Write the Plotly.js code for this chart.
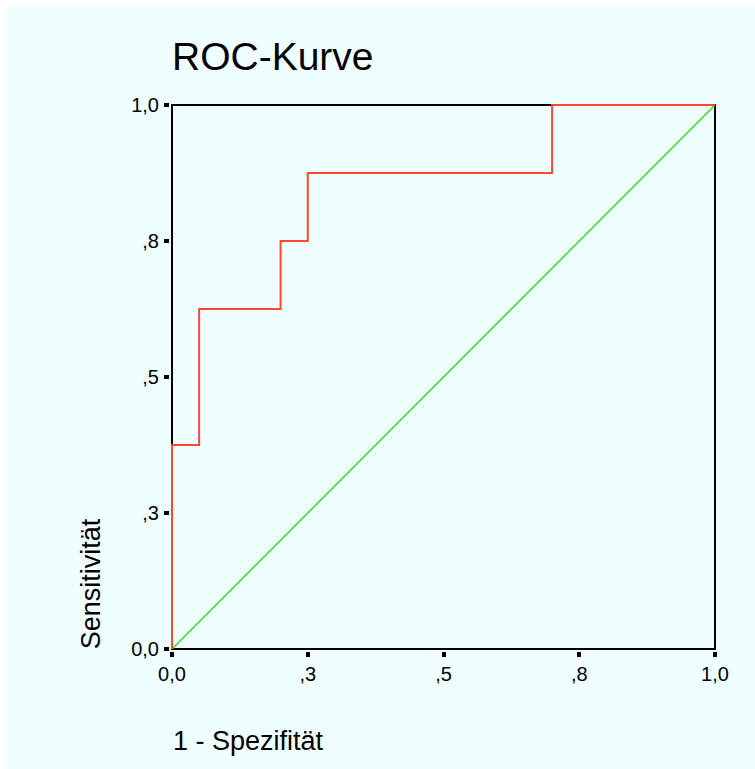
<!DOCTYPE html>
<html>
<head>
<meta charset="utf-8">
<script src="https://cdn.plot.ly/plotly-3.0.1.min.js"></script>
<style>
  html, body { margin: 0; padding: 0; background: #ffffff; }
  #chart { position: absolute; left: 7px; top: 7px; width: 748px; height: 762px; }
</style>
</head>
<body>
<div id="chart"></div>
<script>
// ROC curve points (1 - specificity, sensitivity)
const rocFpr = [0, 0, 0.05, 0.2, 0.25, 0.7, 1];
const rocTpr = [0, 0.375, 0.625, 0.75, 0.875, 1, 1];
// reference diagonal
const diagX = [0, 1];
const diagY = [0, 1];
// ticks
const tickVals = [0, 0.25, 0.5, 0.75, 1];
const tickText = ["0,0", ",3", ",5", ",8", "1,0"];

const font = "Liberation Sans, Arial, Helvetica, sans-serif";

// plot geometry (pixels inside the chart div)
const frameW = 543, frameH = 544, pad = 2;
const fl = 165, ft = 98;           // frame left / top
const divW = 748, divH = 762;

const traces = [
  {
    x: diagX, y: diagY, type: "scatter", mode: "lines",
    line: { color: "#3cdc32", width: 1.6 },
    hoverinfo: "skip"
  },
  {
    x: rocFpr, y: rocTpr, type: "scatter", mode: "lines",
    line: { color: "#ff4632", width: 2, shape: "hv" },
    hoverinfo: "skip"
  }
];

const axisCommon = {
  tickmode: "array",
  tickvals: tickVals,
  ticktext: tickText,
  showgrid: false,
  zeroline: false,
  showline: false,
  ticks: "outside",
  ticklen: 5,
  tickwidth: 4,
  tickcolor: "#000000",
  tickfont: { family: font, size: 20, color: "#000000" },
  fixedrange: true
};

const layout = {
  width: divW,
  height: divH,
  paper_bgcolor: "#f0ffff",
  plot_bgcolor: "#f0ffff",
  showlegend: false,
  margin: {
    l: fl - pad,
    r: divW - (fl + frameW) - pad,
    t: ft - pad,
    b: divH - (ft + frameH) - pad
  },
  title: {
    text: "ROC-Kurve",
    font: { family: font, size: 39, color: "#000000" },
    xref: "paper", x: 0, xanchor: "left",
    yref: "container", y: 0.935, yanchor: "middle",
    pad: { l: 2 }
  },
  xaxis: Object.assign({}, axisCommon, {
    range: [-pad / frameW, 1 + pad / frameW]
  }),
  yaxis: Object.assign({}, axisCommon, {
    range: [-pad / frameH, 1 + pad / frameH],
    ticklabelstandoff: 1
  }),
  shapes: [
    {
      type: "rect", xref: "x", yref: "y",
      x0: 0, x1: 1, y0: 0, y1: 1,
      line: { color: "#000000", width: 2 },
      fillcolor: "rgba(0,0,0,0)",
      layer: "below"
    }
  ],
  annotations: [
    {
      text: "1 - Spezifität",
      xref: "paper", yref: "paper",
      x: 0, y: -0.165, xanchor: "left", yanchor: "middle",
      xshift: 1,
      showarrow: false,
      font: { family: font, size: 27, color: "#000000" }
    },
    {
      text: "Sensitivität",
      xref: "paper", yref: "paper",
      x: -0.145, y: 0, xanchor: "center", yanchor: "bottom",
      textangle: -90,
      showarrow: false,
      font: { family: font, size: 27, color: "#000000" }
    }
  ]
};

Plotly.newPlot("chart", traces, layout, { displayModeBar: false, staticPlot: true });
</script>
</body>
</html>
